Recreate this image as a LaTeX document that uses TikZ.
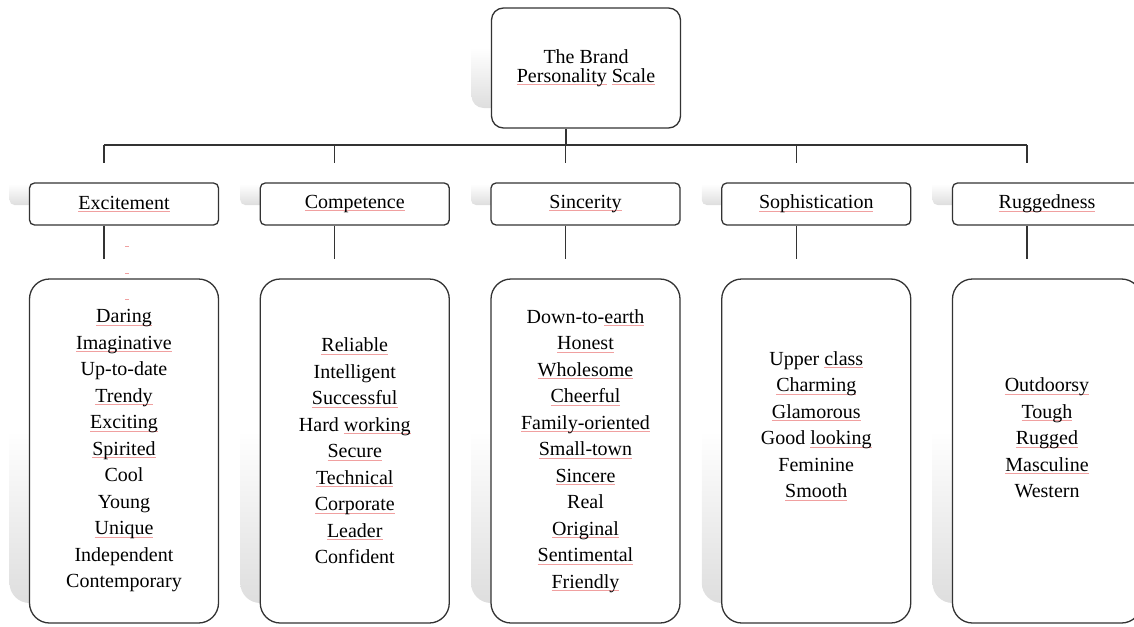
\documentclass[tikz,border=0pt]{standalone}
\usepackage{fontspec}
\setmainfont{Liberation Serif}
\definecolor{spellred}{RGB}{240,160,160}
% word flagged by the spell checker
\newcommand\wrd[1]{\setbox0\hbox{#1}\rlap{\color{spellred}\rule[-2.6pt]{\wd0}{0.7pt}}\box0\relax}

\begin{document}
\begin{tikzpicture}[x=1pt,y=-1pt,
	link/.style={line width=1.3pt,draw=black!80},
	ghost/.style={top color=white,bottom color=black!13,middle color=white,rounded corners=#1,inner sep=0pt},
	box/.style={draw=black!80,line width=1.3pt,fill=white,rounded corners=#1,inner sep=0pt,align=center,font=\fontsize{20}{26.5}\selectfont},
	spellmark/.style={draw=spellred,line width=0.8pt}]
\clip (0,0) rectangle (1134,626);
\coordinate (bus) at (0,145);

% root
\node[ghost=12pt,minimum width=189pt,minimum height=120pt] (rootsh) at (566,48) {};
\node[box=12pt,minimum width=189pt,minimum height=120pt,font=\fontsize{20}{19}\selectfont] (root)
	at ([xshift=20pt,yshift=-20pt]rootsh.center) {The Brand\\\wrd{Personality} \wrd{Scale}};
\draw[link] (root.south -| rootsh.center) -- (rootsh.center |- bus);

\foreach \i/\cat/\items in {
	0/\wrd{Excitement}/{\wrd{Daring}\\\wrd{Imaginative}\\Up-to-date\\\wrd{Trendy}\\\wrd{Exciting}\\\wrd{Spirited}\\Cool\\Young\\\wrd{Unique}\\Independent\\Contemporary},
	1/\wrd{Competence}/{\wrd{Reliable}\\Intelligent\\\wrd{Successful}\\Hard \wrd{working}\\\wrd{Secure}\\\wrd{Technical}\\\wrd{Corporate}\\\wrd{Leader}\\Confident},
	2/\wrd{Sincerity}/{Down-to-\wrd{earth}\\\wrd{Honest}\\\wrd{Wholesome}\\\wrd{Cheerful}\\\wrd{Family-oriented}\\\wrd{Small-town}\\\wrd{Sincere}\\Real\\\wrd{Original}\\\wrd{Sentimental}\\\wrd{Friendly}},
	3/\wrd{Sophistication}/{Upper \wrd{class}\\\wrd{Charming}\\\wrd{Glamorous}\\Good \wrd{looking}\\Feminine\\\wrd{Smooth}\\~\\~},
	4/\wrd{Ruggedness}/{\wrd{Outdoorsy}\\\wrd{Tough}\\\wrd{Rugged}\\\wrd{Masculine}\\Western\\~}}
	{
	\node[ghost=5pt,minimum width=189pt,minimum height=42pt] (csh\i) at ({104+230.75*\i},184) {};
	\node[box=5pt,minimum width=189pt,minimum height=42pt] (cat\i) at ([xshift=20pt,yshift=-20pt]csh\i.center) {\cat};
	\node[ghost=20pt,minimum width=189pt,minimum height=344pt] (lsh\i) at ({104+230.75*\i},431) {};
	\node[box=20pt,minimum width=189pt,minimum height=344pt] (lst\i) at ([xshift=20pt,yshift=-20pt]lsh\i.center) {\items};
	\draw[link] (csh\i.north |- bus) -- (csh\i.north);
	\draw[link] (cat\i.south -| csh\i.center) -- (lsh\i.north);
	}
\draw[link] (csh0.north |- bus) -- (csh4.north |- bus);

% empty flagged lines above Daring
\foreach \y in {246,273,299}
	\draw[spellmark] (125,\y) -- ++(4,0);
\end{tikzpicture}
\end{document}
